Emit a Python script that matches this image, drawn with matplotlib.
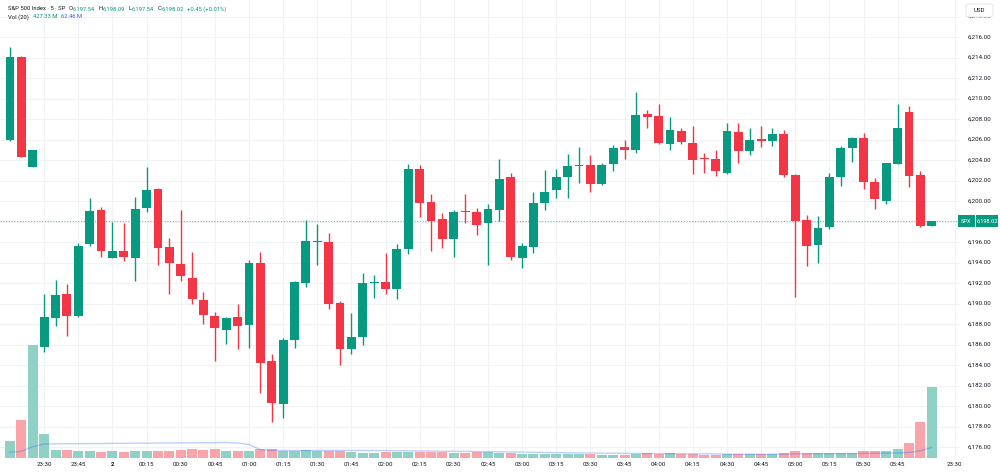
"""
SPX 5-minute candles with volume, TradingView-like layout.
Output: out.png (1000x474)
"""
import matplotlib
matplotlib.use("Agg")
import matplotlib.pyplot as plt
import matplotlib.transforms as mtransforms
from matplotlib.patches import Rectangle, FancyBboxPatch
import numpy as np
import pandas as pd

plt.rcParams["font.family"] = ["Roboto", "DejaVu Sans"]

# ── Data, one entry per 5-min bar
OPEN = [6205.95, 6214.02, 6203.35, 6185.79, 6188.56, 6190.90, 6188.78, 6195.78, 6199.12, 6194.41,
        6195.15, 6194.47, 6199.35, 6201.14, 6195.54, 6193.85, 6192.46, 6190.34, 6188.81, 6187.41,
        6188.65, 6187.90, 6193.92, 6184.42, 6180.20, 6186.44, 6192.03, 6196.00, 6196.00, 6190.02,
        6185.53, 6186.73, 6192.00, 6192.13, 6191.44, 6195.29, 6203.12, 6199.93, 6198.21, 6196.26,
        6199.00, 6198.90, 6197.88, 6199.12, 6202.30, 6194.41, 6195.54, 6199.78, 6201.07, 6202.30,
        6203.45, 6203.48, 6201.63, 6203.64, 6205.30, 6204.98, 6208.46, 6208.32, 6205.56, 6206.86,
        6205.69, 6204.15, 6204.07, 6202.70, 6206.76, 6204.88, 6206.00, 6205.88, 6206.50, 6202.54,
        6198.15, 6195.71, 6197.43, 6202.30, 6205.14, 6206.12, 6201.89, 6200.03, 6203.61, 6208.71,
        6202.54, 6197.54]
HIGH = [6214.99, 6214.10, 6204.98, 6190.93, 6192.29, 6191.90, 6195.93, 6200.26, 6199.40, 6197.92,
        6197.88, 6200.42, 6203.35, 6201.30, 6196.36, 6199.12, 6194.99, 6191.15, 6189.20, 6188.70,
        6189.95, 6194.24, 6194.99, 6185.07, 6186.60, 6192.20, 6198.15, 6197.76, 6196.85, 6190.24,
        6189.10, 6192.95, 6192.78, 6194.95, 6195.80, 6203.61, 6203.51, 6200.68, 6198.80, 6199.12,
        6200.68, 6199.28, 6199.71, 6204.07, 6202.76, 6195.93, 6200.85, 6203.02, 6203.09, 6204.56,
        6205.24, 6204.49, 6203.70, 6205.46, 6205.95, 6210.66, 6208.88, 6209.46, 6208.17, 6207.10,
        6207.35, 6204.65, 6204.98, 6207.58, 6207.58, 6207.09, 6207.32, 6207.09, 6206.93, 6202.60,
        6198.63, 6198.54, 6202.70, 6205.37, 6206.20, 6206.67, 6202.27, 6203.74, 6209.46, 6209.30,
        6202.96, 6198.09]
LOW = [6205.90, 6204.30, 6203.35, 6185.27, 6187.80, 6186.83, 6188.70, 6195.60, 6194.57, 6194.40,
       6194.18, 6192.20, 6198.90, 6193.76, 6190.93, 6192.22, 6189.95, 6188.00, 6184.40, 6186.05,
       6185.53, 6185.69, 6181.30, 6178.47, 6178.80, 6185.69, 6191.64, 6193.76, 6189.43, 6184.00,
       6185.07, 6185.95, 6190.50, 6190.93, 6190.40, 6194.83, 6198.47, 6195.15, 6195.38, 6194.50,
       6197.88, 6196.68, 6193.76, 6198.05, 6194.24, 6193.44, 6194.95, 6199.12, 6200.26, 6200.26,
       6201.73, 6200.91, 6201.60, 6202.93, 6204.07, 6204.65, 6207.09, 6205.60, 6204.98, 6205.56,
       6202.63, 6202.70, 6202.47, 6202.60, 6203.74, 6204.49, 6205.30, 6205.37, 6202.37, 6190.67,
       6193.69, 6193.92, 6197.30, 6201.49, 6203.84, 6201.17, 6199.19, 6199.68, 6203.60, 6201.40,
       6197.50, 6197.54]
CLOSE = [6214.08, 6204.32, 6204.98, 6188.65, 6190.83, 6188.78, 6195.60, 6199.02, 6195.12, 6195.12,
         6194.57, 6199.19, 6201.07, 6195.44, 6193.92, 6192.68, 6190.44, 6188.88, 6187.58, 6188.56,
         6187.83, 6193.98, 6184.22, 6180.32, 6186.44, 6192.13, 6196.07, 6196.10, 6190.00, 6185.56,
         6186.70, 6192.03, 6192.10, 6191.44, 6195.29, 6203.12, 6199.78, 6198.08, 6196.26, 6198.96,
         6198.90, 6197.66, 6199.22, 6202.12, 6194.50, 6195.64, 6199.84, 6200.91, 6202.37, 6203.41,
         6203.50, 6201.63, 6203.51, 6205.20, 6204.98, 6208.39, 6208.22, 6205.63, 6206.93, 6205.73,
         6204.00, 6204.10, 6202.93, 6206.83, 6204.88, 6205.95, 6205.90, 6206.50, 6202.54, 6198.08,
         6195.61, 6197.34, 6202.37, 6205.14, 6206.12, 6201.83, 6200.22, 6203.68, 6207.09, 6202.47,
         6197.57, 6198.02]
# volume in millions
VOLUME = [102, 231, 682, 146, 50, 48, 42, 46, 38, 46,
          40, 42, 42, 46, 46, 52, 56, 52, 56, 42,
          42, 46, 56, 54, 46, 46, 50, 42, 46, 46,
          40, 34, 34, 36, 36, 40, 36, 40, 36, 34,
          30, 36, 36, 34, 34, 28, 24, 24, 26, 24,
          24, 26, 22, 22, 20, 26, 30, 28, 32, 26,
          26, 22, 22, 24, 24, 24, 24, 26, 32, 46,
          34, 30, 30, 34, 34, 44, 44, 44, 54, 90,
          219, 427.33]
# Vol MA(20) for the first bars (window reaches back into the previous session)
VOL_MA_HEAD = [36, 42, 70, 86, 87, 88, 88, 89, 89, 90, 90, 91, 91, 92, 92, 93, 93, 94, 94]
VOL_MA_LAST = 62.46

TIME_LABELS = [(3, "23:30"), (6, "23:45"), (9, "2"), (12, "00:15"), (15, "00:30"), (18, "00:45"),
               (21, "01:00"), (24, "01:15"), (27, "01:30"), (30, "01:45"), (33, "02:00"),
               (36, "02:15"), (39, "02:30"), (42, "02:45"), (45, "03:00"), (48, "03:15"),
               (51, "03:30"), (54, "03:45"), (57, "04:00"), (60, "04:15"), (63, "04:30"),
               (66, "04:45"), (69, "05:00"), (72, "05:15"), (75, "05:30"), (78, "05:45"),
               (83, "23:30")]
PRICE_TICKS = np.arange(6176, 6219, 2)

SYMBOL = "S&P 500 Index · 5 · SP"
TICKER = "SPX"

# ── Style
UP = "#089981"
DOWN = "#F23645"
UP_VOL = "#90D1C6"
DOWN_VOL = "#F9A4AB"
TEXT = "#131722"
GRID = "#F0F2F5"
FS = 4.4
HFS = 4.2   # header font size

W, H = 1000, 474
PLOT_BOTTOM = 458.3   # px from top
PLOT_RIGHT = 960
BAR_PX = 11.38
FIRST_BAR_PX = 10
PX_PER_POINT = 10.25
Y_6216 = 37

fig = plt.figure(figsize=(W / 100, H / 100), dpi=100)
rect = [0, (H - PLOT_BOTTOM) / H, PLOT_RIGHT / W, PLOT_BOTTOM / H]
ax_v = fig.add_axes(rect)
ax = ax_v.twinx()

n = len(OPEN)
x = np.arange(n)
o, h, l, c = map(np.array, (OPEN, HIGH, LOW, CLOSE))
up = c >= o

ax.set_xlim(-FIRST_BAR_PX / BAR_PX, (PLOT_RIGHT - FIRST_BAR_PX) / BAR_PX)
ax.set_ylim(6216 - (PLOT_BOTTOM - Y_6216) / PX_PER_POINT, 6216 + Y_6216 / PX_PER_POINT)
vol_top = VOLUME[-1] * PLOT_BOTTOM / 71.0
ax_v.set_ylim(0, vol_top)

for a in (ax, ax_v):
    for s in a.spines.values():
        s.set_visible(False)
    a.set_xticks([])
    a.set_yticks([])

# grid (drawn on the lower axes so it stays behind everything)
hgrid_tr = mtransforms.blended_transform_factory(ax_v.transAxes, ax.transData)
for p in PRICE_TICKS:
    ax_v.plot([0, 1], [p, p], color=GRID, lw=0.8, transform=hgrid_tr, zorder=0)
for pos, _ in TIME_LABELS:
    ax_v.axvline(pos, color=GRID, lw=0.8, zorder=0)

# volume + MA(20)
vol = pd.Series(VOLUME, dtype=float)
vol_ma = vol.rolling(20).mean().to_numpy()
vol_ma[:len(VOL_MA_HEAD)] = VOL_MA_HEAD
ax_v.bar(x, VOLUME, width=0.88, color=np.where(up, UP_VOL, DOWN_VOL), zorder=1)
ax_v.plot(x, vol_ma, color="#2962FF", alpha=0.3, lw=1, zorder=2)

# candles
colors = np.where(up, UP, DOWN)
ax.vlines(x, l, h, colors=colors, lw=1, zorder=3)
body = np.maximum(np.abs(c - o), 0.1)
ax.bar(x, body, bottom=np.minimum(o, c), width=0.78, color=colors, zorder=4)

# last price line
last = CLOSE[-1]
ax.axhline(last, color=UP, lw=0.8, ls=(0, (1, 1.5)), alpha=0.6, zorder=2)

# ── Axis labels
right_tr = mtransforms.blended_transform_factory(fig.transFigure, ax.transData)
for p in PRICE_TICKS:
    if abs(p - last) < 1.0:
        continue  # hidden behind the last-price tag
    ax.text(979 / W, p, f"{p:,.2f}", transform=right_tr, ha="center", va="center",
            fontsize=FS, color=TEXT, clip_on=False)

bottom_tr = mtransforms.blended_transform_factory(ax.transData, fig.transFigure)
for pos, lab in TIME_LABELS:
    ax.text(pos, 1 - 464.5 / H, lab, transform=bottom_tr, ha="center", va="center",
            fontsize=FS, color=TEXT, clip_on=False,
            fontweight="bold" if lab == "2" else "normal")

# price tags on the scale
tag_h = 12 / PX_PER_POINT
for x0, w, s in [(958, 17, TICKER), (976, 22, f"{last:,.2f}")]:
    fig.add_artist(Rectangle((x0 / W, last - tag_h / 2), w / W, tag_h, transform=right_tr,
                             fc=UP, ec="none", zorder=9))
    fig.text((x0 + w / 2) / W, last, s, transform=right_tr, ha="center", va="center",
             fontsize=4.1, color="white", zorder=10)

# USD box
fig.add_artist(FancyBboxPatch((966 / W, 1 - 17 / H), 27 / W, 13 / H,
                              boxstyle="round,pad=0,rounding_size=0.004",
                              transform=fig.transFigure, fc="white", ec="#E0E3EB",
                              lw=0.6, zorder=9))
fig.text(979.5 / W, 1 - 10.5 / H, "USD", ha="center", va="center", fontsize=FS,
         color=TEXT, zorder=10)

# ── Header (legend), laid out left to right
renderer = fig.canvas.get_renderer()


def header_line(y_px, parts):
    cur = 8.0
    for s, col, gap in parts:
        t = fig.text(cur / W, 1 - y_px / H, s, ha="left", va="center", fontsize=HFS, color=col)
        bb = t.get_window_extent(renderer)
        cur = bb.x1 + gap


chg = CLOSE[-1] - CLOSE[-2]
pct = chg / CLOSE[-2] * 100
header_line(9, [(SYMBOL, TEXT, 3), ("O", TEXT, 0.6), (f"{OPEN[-1]:,.2f}", UP, 3),
                ("H", TEXT, 0.6), (f"{HIGH[-1]:,.2f}", UP, 3),
                ("L", TEXT, 0.6), (f"{LOW[-1]:,.2f}", UP, 3),
                ("C", TEXT, 0.6), (f"{CLOSE[-1]:,.2f}", UP, 3),
                (f"{chg:+.2f} ({pct:+.2f}%)", UP, 0)])
header_line(17, [("Vol (20)", TEXT, 4), (f"{VOLUME[-1]:.2f} M", UP, 4),
                 (f"{VOL_MA_LAST:.2f} M", "#2962FF", 0)])

fig.savefig("out.png", dpi=100)
plt.close(fig)
